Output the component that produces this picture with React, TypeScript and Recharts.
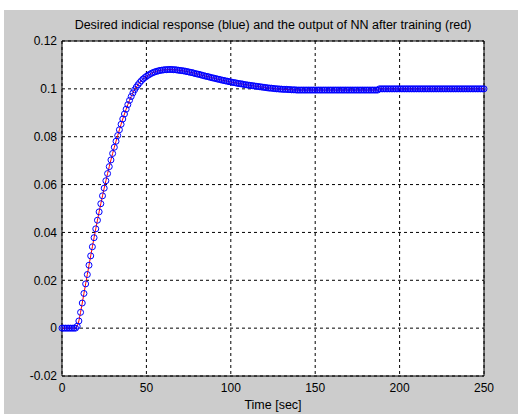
import { LineChart, Line, XAxis, YAxis, CartesianGrid, ReferenceArea } from "recharts";

// sample times (1 s step) and the step response
const timeSec = Array.from({ length: 251 }, (_, i) => i);

const desiredResponse = [
  0, 0, 0, 0, 0, 0, 0, 0, 0, 0.0008,
  0.0030, 0.0066, 0.0105, 0.0145, 0.0185, 0.0224, 0.0263, 0.0302, 0.0340, 0.0378,
  0.0415, 0.0451, 0.0486, 0.0520, 0.0553, 0.0585, 0.0616, 0.0646, 0.0675, 0.0703,
  0.0730, 0.0756, 0.0781, 0.0805, 0.0829, 0.0852, 0.0874, 0.0895, 0.0915, 0.0934,
  0.0952, 0.0968, 0.0983, 0.0996, 0.1007, 0.1017, 0.1026, 0.1034, 0.1041, 0.1047,
  0.1052, 0.1057, 0.1061, 0.1065, 0.1068, 0.1071, 0.1073, 0.1075, 0.1077, 0.1078,
  0.1079, 0.1080, 0.1080, 0.1081, 0.1081, 0.1081, 0.1080, 0.1080, 0.1079, 0.1078,
  0.1077, 0.1076, 0.1075, 0.1074, 0.1072, 0.1071, 0.1069, 0.1068, 0.1066, 0.1064,
  0.1062, 0.1061, 0.1059, 0.1057, 0.1055, 0.1053, 0.1052, 0.1050, 0.1048, 0.1046,
  0.1045, 0.1043, 0.1041, 0.1040, 0.1038, 0.1036, 0.1035, 0.1033, 0.1032, 0.1030,
  0.1029, 0.1027, 0.1026, 0.1025, 0.1023, 0.1022, 0.1021, 0.1020, 0.1018, 0.1017,
  0.1016, 0.1015, 0.1014, 0.1013, 0.1012, 0.1011, 0.1010, 0.1009, 0.1008, 0.1007,
  0.1006, 0.1005, 0.1004, 0.1003, 0.1003, 0.1002, 0.1001, 0.1000, 0.1000, 0.0999,
  0.0999, 0.0998, 0.0998, 0.0998, 0.0997, 0.0997, 0.0996, 0.0996, 0.0996, 0.0995,
  0.0995, 0.0995, 0.0995, 0.0995, 0.0995, 0.0995, 0.0995, 0.0995, 0.0995, 0.0995,
  0.0995, 0.0995, 0.0995, 0.0995, 0.0995, 0.0995, 0.0995, 0.0995, 0.0995, 0.0995,
  0.0995, 0.0995, 0.0995, 0.0995, 0.0995, 0.0995, 0.0995, 0.0995, 0.0995, 0.0995,
  0.0995, 0.0995, 0.0995, 0.0995, 0.0995, 0.0995, 0.0995, 0.0995, 0.0995, 0.0995,
  0.0995, 0.0995, 0.0995, 0.0995, 0.0995, 0.0995, 0.0995, 0.0995, 0.1000, 0.1000,
  0.1, 0.1, 0.1, 0.1, 0.1, 0.1, 0.1, 0.1, 0.1, 0.1,
  0.1, 0.1, 0.1, 0.1, 0.1, 0.1, 0.1, 0.1, 0.1, 0.1,
  0.1, 0.1, 0.1, 0.1, 0.1, 0.1, 0.1, 0.1, 0.1, 0.1,
  0.1, 0.1, 0.1, 0.1, 0.1, 0.1, 0.1, 0.1, 0.1, 0.1,
  0.1, 0.1, 0.1, 0.1, 0.1, 0.1, 0.1, 0.1, 0.1, 0.1,
  0.1, 0.1, 0.1, 0.1, 0.1, 0.1, 0.1, 0.1, 0.1, 0.1,
  0.1,
];

// the trained network tracks the target to within a pixel
const nnOutput = desiredResponse;

const xTicks = [0, 50, 100, 150, 200, 250];
const yTicks = [-0.02, 0, 0.02, 0.04, 0.06, 0.08, 0.1, 0.12];

const data = timeSec.map((t, i) => ({ t, desired: desiredResponse[i], nn: nnOutput[i] }));

const font = '"Liberation Sans", Arial, sans-serif';
const tickStyle = { fontSize: 12, fill: "#000", fontFamily: font };
const labelStyle = { fontSize: 12.5, fill: "#000", fontFamily: font };

const App = () => {
  return (
    <div style={{ position: "fixed", left: 0, top: 0, width: 518, height: 414, background: "#fff" }}>
      <div style={{ position: "absolute", left: 4, top: 10, right: 0, bottom: 0, background: "#cccccc" }} />
      <div
        style={{
          position: "absolute",
          left: 62,
          top: 18,
          width: 422,
          textAlign: "center",
          fontFamily: font,
          fontSize: 12.5,
          lineHeight: "14px",
          color: "#000",
          whiteSpace: "nowrap",
        }}
      >
        Desired indicial response (blue) and the output of NN after training (red)
      </div>
      <div style={{ position: "absolute", left: 0, top: 0 }}>
        <LineChart width={518} height={414} data={data} margin={{ top: 41, right: 34, bottom: 0, left: 0 }}>
          <CartesianGrid fill="#fff" stroke="#000" strokeDasharray="3 3" />
          <XAxis
            dataKey="t"
            type="number"
            domain={[0, 250]}
            ticks={xTicks}
            height={38}
            tickLine={false}
            tickSize={4}
            tickMargin={3}
            axisLine={false}
            tick={tickStyle}
            label={{ value: "Time [sec]", position: "insideBottom", offset: 5, style: labelStyle }}
          />
          <YAxis
            type="number"
            domain={[-0.02, 0.12]}
            ticks={yTicks}
            width={62}
            tickLine={false}
            tickSize={4}
            tickMargin={1}
            axisLine={false}
            tick={tickStyle}
            tickFormatter={(v: number) => String(Number(v.toFixed(2)))}
          />
          <ReferenceArea x1={0} x2={250} y1={-0.02} y2={0.12} fill="none" stroke="#000" strokeWidth={1} />
          <Line
            dataKey="desired"
            stroke="none"
            dot={{ r: 3, stroke: "#0000ff", strokeWidth: 1, fill: "none" }}
            activeDot={false}
            isAnimationActive={false}
          />
          <Line
            dataKey="nn"
            type="linear"
            stroke="#ff0000"
            strokeWidth={1}
            dot={false}
            activeDot={false}
            isAnimationActive={false}
          />
        </LineChart>
      </div>
    </div>
  );
};

export default App;
